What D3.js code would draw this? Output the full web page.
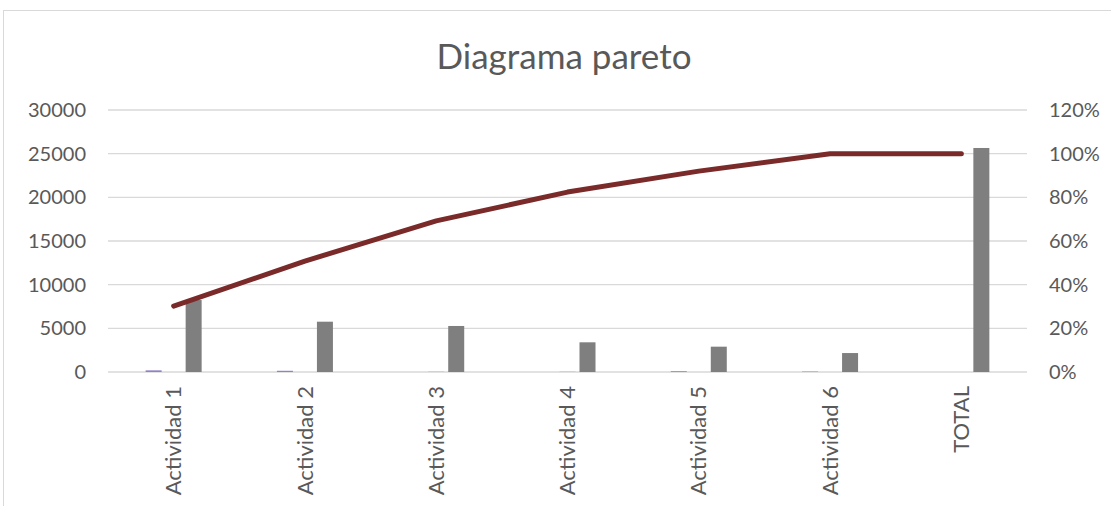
<!DOCTYPE html>
<html>
<head>
<meta charset="utf-8">
<script src="https://cdn.jsdelivr.net/npm/d3@7"></script>
<style>
  body { margin: 0; background: #fff; }
  svg { display: block; font-family: Lato, "Open Sans", sans-serif; }
</style>
</head>
<body>
<div id="chart"></div>
<script>
// datos
const categories = ["Actividad 1", "Actividad 2", "Actividad 3", "Actividad 4", "Actividad 5", "Actividad 6", "TOTAL"]
const serieA = [190, 140, 0, 0, 90, 50, 0]
const serieB = [0, 0, 60, 60, 0, 0, 0]
const costo = [8240, 5760, 5270, 3400, 2900, 2170, 25650]
const acumulado = [0.302, 0.508, 0.692, 0.824, 0.92, 1.0, 1.0]
const leftTicks = [0, 5000, 10000, 15000, 20000, 25000, 30000]
const rightTicks = [0, 0.2, 0.4, 0.6, 0.8, 1.0, 1.2]

const width = 1111
const height = 506
const margin = {top: 110, right: 84, bottom: 134, left: 108}

const svg = d3.select("#chart").append("svg")
  .attr("width", width)
  .attr("height", height)

// borde del area del grafico
svg.append("rect")
  .attr("x", 3.5).attr("y", 10.5)
  .attr("width", 1130).attr("height", 520)
  .attr("fill", "#fff")
  .attr("stroke", "#d9d9d9")

svg.append("text")
  .attr("x", 564).attr("y", 69)
  .attr("text-anchor", "middle")
  .attr("font-size", 35)
  .attr("fill", "#595959")
  .text("Diagrama pareto")

const x0 = d3.scaleBand()
  .domain(categories)
  .range([margin.left, width - margin.right])

const series = ["a", "b", "c"]
const x1 = d3.scaleBand()
  .domain(series)
  .range([-28, 28])
  .paddingInner(0.2)

const y = d3.scaleLinear()
  .domain([0, 30000])
  .range([height - margin.bottom, margin.top])

const yPct = d3.scaleLinear()
  .domain([0, 1.2])
  .range([height - margin.bottom, margin.top])

// lineas de cuadricula
svg.append("g")
  .selectAll("line")
  .data(leftTicks)
  .join("line")
  .attr("x1", margin.left)
  .attr("x2", width - margin.right)
  .attr("y1", d => y(d))
  .attr("y2", d => y(d))
  .attr("stroke", "#d9d9d9")
  .attr("stroke-width", 1.3)

// eje izquierdo
const leftAxis = svg.append("g")
  .attr("transform", `translate(${margin.left - 22},0)`)
  .call(d3.axisLeft(y).tickValues(leftTicks).tickSize(0).tickPadding(0).tickFormat(d3.format("d")))
leftAxis.select(".domain").remove()
leftAxis.selectAll("text")
  .attr("font-size", 20)
  .attr("font-family", "Lato, sans-serif")
  .attr("fill", "#595959")

// eje derecho
const rightAxis = svg.append("g")
  .attr("transform", `translate(${width - margin.right + 22},0)`)
  .call(d3.axisRight(yPct).tickValues(rightTicks).tickSize(0).tickPadding(0).tickFormat(d3.format(".0%")))
rightAxis.select(".domain").remove()
rightAxis.selectAll("text")
  .attr("font-size", 20)
  .attr("font-family", "Lato, sans-serif")
  .attr("fill", "#595959")

// eje x con etiquetas giradas
const xAxis = svg.append("g")
  .attr("transform", `translate(0,${height - margin.bottom})`)
  .call(d3.axisBottom(x0).tickSize(0).tickPadding(0))
xAxis.select(".domain").remove()
xAxis.selectAll("text")
  .attr("font-size", 22)
  .attr("font-family", "Lato, sans-serif")
  .attr("fill", "#595959")
  .attr("text-anchor", "end")
  .attr("transform", "translate(0,14) rotate(-90)")
  .attr("dx", 0)
  .attr("dy", "0.35em")

// columnas
const colors = {a: "#9381c4", b: "#a9cbe8", c: "#7f7f7f"}
const rows = categories.map((c, i) => ({cat: c, a: serieA[i], b: serieB[i], c: costo[i]}))

svg.append("g")
  .selectAll("g")
  .data(rows)
  .join("g")
  .attr("transform", d => `translate(${x0(d.cat) + x0.bandwidth() / 2},0)`)
  .selectAll("rect")
  .data(d => series.map(k => ({key: k, value: d[k]})))
  .join("rect")
  .attr("x", d => x1(d.key))
  .attr("width", x1.bandwidth())
  .attr("y", d => y(d.value))
  .attr("height", d => y(0) - y(d.value))
  .attr("fill", d => colors[d.key])

// linea de acumulado
const line = d3.line()
  .x((d, i) => x0(categories[i]) + x0.bandwidth() / 2)
  .y(d => yPct(d))

svg.append("path")
  .datum(acumulado)
  .attr("fill", "none")
  .attr("stroke", "#7b2a2a")
  .attr("stroke-width", 5)
  .attr("stroke-linecap", "round")
  .attr("stroke-linejoin", "round")
  .attr("d", line)
</script>
</body>
</html>
